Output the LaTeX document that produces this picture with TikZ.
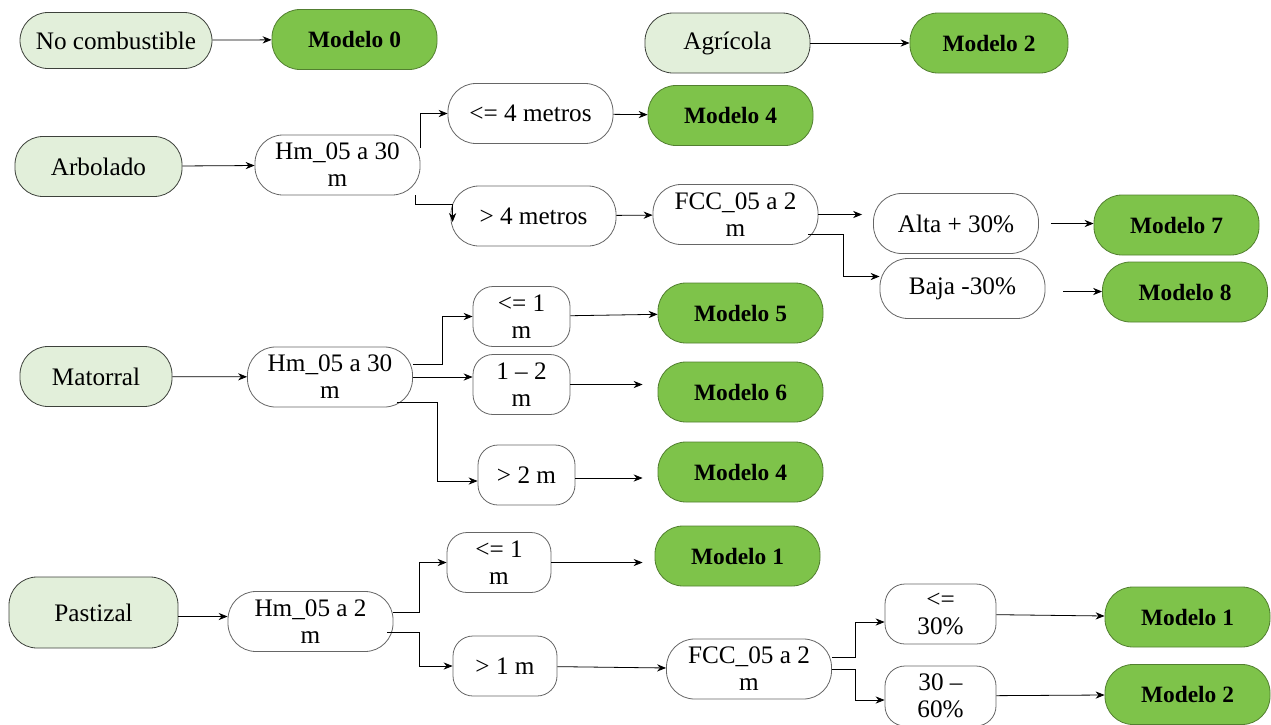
\documentclass[tikz,border=0pt]{standalone}
\usepackage{fontspec}
\setmainfont{Liberation Serif}
\usetikzlibrary{arrows.meta}
\definecolor{lightgrass}{HTML}{E2EFDA}
\definecolor{grass}{HTML}{7EC34A}
\tikzset{
line width=0.5pt, % thin lines everywhere
>={Stealth[length=4.5pt,width=3.6pt]}, % stealth tips
box/.style={draw=black!60,rectangle,rounded corners=14pt,minimum width=82.5pt,minimum height=30pt,
  inner sep=1pt,align=center,font=\fontsize{12.6}{13.5}\selectfont},
cat/.style={box,fill=lightgrass,draw=black!55!lightgrass!60!black},
cond/.style={box,fill=white},
model/.style={box,fill=grass,draw=grass!65!black,font=\fontsize{11.7}{13.5}\selectfont\bfseries},
narrow/.style={minimum width=#1,rounded corners=10pt},
}
\begin{document}
\begin{tikzpicture}[x=0.5pt,y=-0.5pt]
\useasboundingbox (0,0) rectangle (1271,724);
% top row
\node[cat,minimum width=96pt,minimum height=28pt] (nc) at (116,40.5) {No combustible};
\node[model] (m0) at (354.5,39.5) {Modelo 0};
\node[cat] (agr) at (727.5,43) {Agrícola};
\node[model,minimum width=79pt] (m2a) at (989,43) {Modelo 2};
% arbolado
\node[cat,minimum width=83.5pt] (arb) at (98.5,166.5) {Arbolado};
\node[cond] (hA) at (337.5,165) {Hm\_05 a 30\\m};
\node[cond] (le4) at (530.5,113.5) {<= 4 metros};
\node[model] (m4a) at (730.5,115.5) {Modelo 4};
\node[cond] (gt4) at (533.5,216) {> 4 metros};
\node[cond] (fA) at (735.5,214.5) {FCC\_05 a 2\\m};
\node[cond] (alta) at (956,223.5) {Alta + 30\%};
\node[model] (m7) at (1176.5,225) {Modelo 7};
\node[cond] (baja) at (962.5,288.5) {Baja -30\%};
\node[model] (m8) at (1185,292) {Modelo 8};
% matorral
\node[cat,minimum width=76pt] (mat) at (96,376.5) {Matorral};
\node[cond] (hM) at (330,377) {Hm\_05 a 30\\m};
\node[cond,narrow=48.5pt] (le1) at (521.5,316.5) {<= 1\\m};
\node[cond,narrow=48.5pt] (r12) at (521.5,384.5) {1 – 2\\m};
\node[cond,narrow=48.5pt] (gt2) at (526.5,475) {> 2 m};
\node[model] (m5) at (740.5,313) {Modelo 5};
\node[model] (m6) at (740.5,392) {Modelo 6};
\node[model] (m4b) at (740.5,472) {Modelo 4};
% pastizal
\node[cat,minimum width=84.5pt,minimum height=35.5pt] (past) at (93.5,612.5) {Pastizal};
\node[cond] (hP) at (310.5,621.5) {Hm\_05 a 2\\m};
\node[cond,narrow=52pt] (le1P) at (499,562.5) {<= 1\\m};
\node[model] (m1a) at (737.5,556) {Modelo 1};
\node[cond,narrow=52pt] (gt1) at (505,666) {> 1 m};
\node[cond] (fP) at (749,669) {FCC\_05 a 2\\m};
\node[cond,narrow=55.5pt] (le30) at (940.5,614) {<=\\30\%};
\node[cond,narrow=55.5pt] (r3060) at (940.5,696) {30 –\\60\%};
\node[model] (m1b) at (1187.5,617) {Modelo 1};
\node[model] (m2b) at (1187.5,694.5) {Modelo 2};

\path[->]
  (nc) edge (m0)
  (agr) edge (m2a)
  (arb) edge (hA)
  (le4) edge (m4a)
  (gt4) edge (fA)
  (mat) edge (hM)
  (le1) edge (m5)
  (gt1) edge (fP)
  (le30) edge (m1b)
  (r3060) edge (m2b);

% elbows and short arrows
\draw[->] ([yshift=8.5pt]hA.east) |- (le4.west);
\draw[->] ([xshift=-2.5pt]hA.south east) |- ([xshift=1pt,yshift=6pt]gt4.west) -- ([xshift=1pt,yshift=-3pt]gt4.west);
\draw[->] (fA.east) -- ([xshift=-5.5pt]alta.west |- fA.east);
\draw[->] ([xshift=-5pt,yshift=-10pt]fA.east) -- ++(17.5pt,0pt) |- ([yshift=6pt]baja.west);
\draw[->] ([xshift=6pt]alta.east) -- (alta.east -| m7.west);
\draw[->] ([xshift=9pt,yshift=-1.5pt]baja.east) -- ([yshift=-1.5pt]baja.east -| m8.west);
\draw[->] ([yshift=6.5pt]hM.east) -- ++(14.5pt,0pt) |- (le1.west);
\draw[->] (hM.east) -- (hM.east -| r12.west);
\draw[->] ([xshift=-8pt,yshift=-12.5pt]hM.east) -- ++(20pt,0pt) |- ([yshift=-3pt]gt2.west);
\draw[->] (r12.east) -- ([xshift=-7.5pt]m6.west |- r12.east);
\draw[->] ([yshift=-1.5pt]gt2.east) -- ([xshift=-7.5pt,yshift=-1.5pt]m4b.west |- gt2.east);
\draw[->] ([yshift=-2pt]past.east) -- ([yshift=-2pt]past.east -| hP.west);
\draw[->] ([yshift=4.75pt]hP.east) -- ++(13pt,0pt) |- (le1P.west);
\draw[->] ([xshift=-3pt,yshift=-5.25pt]hP.east) -- ++(16pt,0pt) |- (gt1.west);
\draw[->] (le1P.east) -- ([xshift=-6pt]m1a.west |- le1P.east);
\draw[->] ([yshift=6pt]fP.east) -- ++(11.5pt,0pt) |- ([yshift=-4pt]le30.west);
\draw[->] (fP.east) -- ++(11.5pt,0pt) |- ([yshift=-2pt]r3060.west);
\end{tikzpicture}
\end{document}
